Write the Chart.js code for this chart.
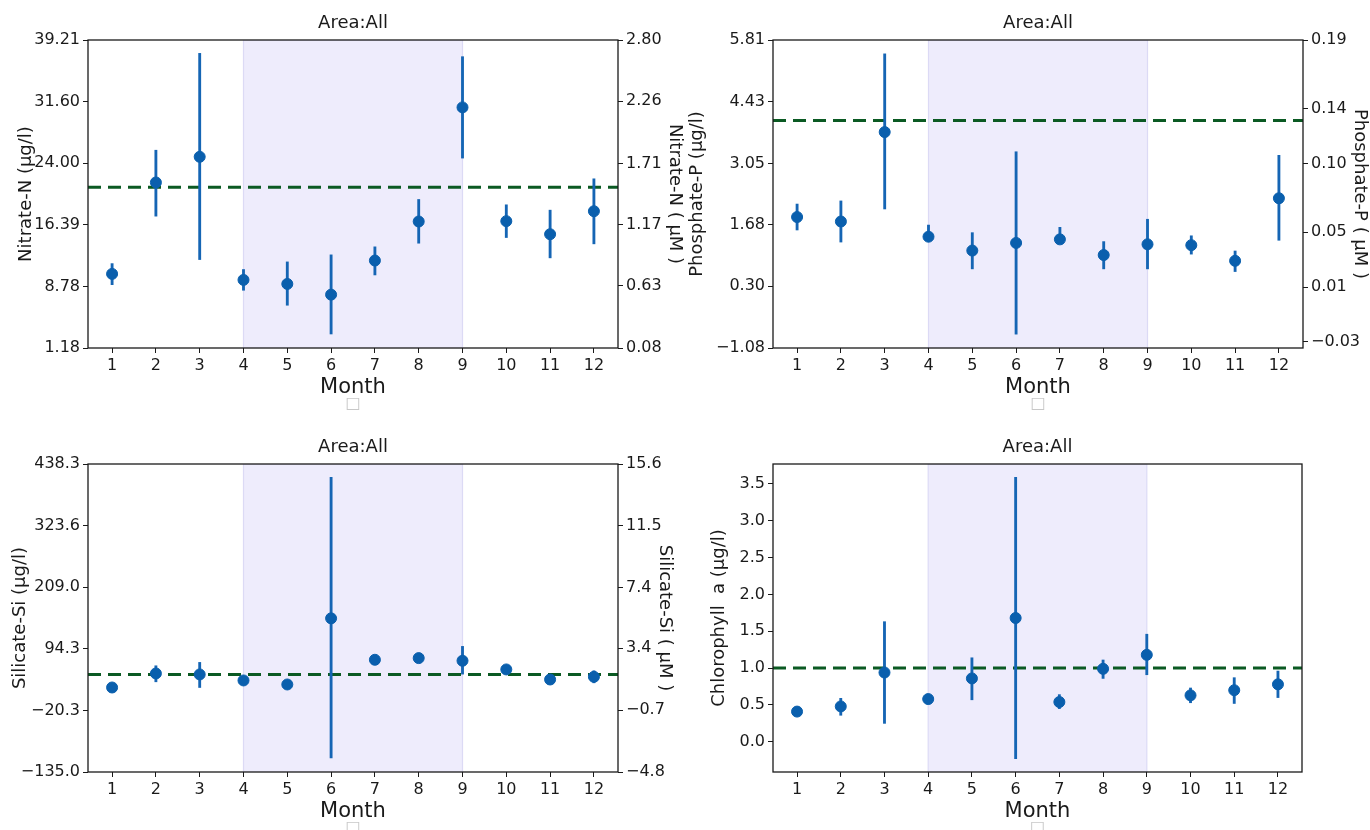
<!DOCTYPE html>
<html>
<head>
<meta charset="utf-8">
<script src="https://cdn.jsdelivr.net/npm/chart.js@4.4.1/dist/chart.umd.min.js"></script>
<style>
  html, body { margin: 0; padding: 0; background: #fff; overflow: hidden; }
  #wrap { position: relative; width: 1370px; height: 830px; overflow: hidden; }
  .panel { position: absolute; width: 685px; height: 415px; }
</style>
</head>
<body>
<div id="wrap">
  <div class="panel" style="left:0;top:0"><canvas id="c-no3" width="685" height="415"></canvas></div>
  <div class="panel" style="left:685px;top:0"><canvas id="c-po4" width="685" height="415"></canvas></div>
  <div class="panel" style="left:0;top:424px"><canvas id="c-si" width="685" height="415"></canvas></div>
  <div class="panel" style="left:685px;top:424px"><canvas id="c-chl" width="685" height="415"></canvas></div>
</div>
<script>
// 月別平均値と誤差範囲
const months = [1, 2, 3, 4, 5, 6, 7, 8, 9, 10, 11, 12];
const X_MIN = 0.45, X_MAX = 12.55;
const SHADE_FROM = 4, SHADE_TO = 9;

const no3Mean = [10.33, 21.62, 24.79, 9.59, 9.09, 7.77, 11.98, 16.80, 30.89, 16.84, 15.23, 18.07];
const no3Low  = [9.0, 17.46, 12.10, 8.31, 6.46, 2.91, 10.20, 14.12, 24.63, 14.82, 12.31, 14.04];
const no3High = [11.6, 25.6, 37.56, 10.87, 11.81, 12.68, 13.67, 19.52, 37.15, 18.86, 18.20, 22.07];
const no3Ref = 21.04;
const no3TicksL = [1.18, 8.78, 16.39, 24.00, 31.60, 39.21];
const no3TicksR = [0.08, 0.63, 1.17, 1.71, 2.26, 2.80];

const po4Mean = [1.85, 1.75, 3.75, 1.41, 1.10, 1.27, 1.35, 1.00, 1.24, 1.22, 0.87, 2.27];
const po4Low  = [1.56, 1.29, 2.03, 1.35, 0.69, -0.77, 1.27, 0.69, 0.69, 1.02, 0.63, 1.33];
const po4High = [2.14, 2.21, 5.50, 1.67, 1.50, 3.31, 1.62, 1.30, 1.80, 1.43, 1.09, 3.23];
const po4Ref = 4.01;
const po4TicksL = [-1.08, 0.30, 1.68, 3.05, 4.43, 5.81];
const po4TicksR = [-0.03, 0.01, 0.05, 0.10, 0.14, 0.19];

const siMean = [22.3, 48.4, 46.6, 35.4, 27.9, 151.0, 73.9, 77.0, 72.1, 55.9, 37.2, 42.2];
const siLow  = [19.5, 32.9, 22.3, 30.5, 23.5, -108.9, 70.0, 73.0, 47.2, 50.5, 32.5, 31.0];
const siHigh = [25.0, 62.7, 69.0, 40.5, 32.0, 413.4, 78.0, 81.0, 98.8, 61.0, 42.0, 53.4];
const siRef = 46.6;
const siTicksL = [-135.0, -20.3, 94.3, 209.0, 323.6, 438.3];
const siTicksR = [-4.8, -0.7, 3.4, 7.4, 11.5, 15.6];

const chlMean = [0.41, 0.48, 0.94, 0.58, 0.86, 1.68, 0.54, 0.99, 1.18, 0.63, 0.70, 0.78];
const chlLow  = [0.38, 0.36, 0.25, 0.54, 0.57, -0.23, 0.45, 0.86, 0.91, 0.53, 0.52, 0.60];
const chlHigh = [0.44, 0.59, 1.63, 0.61, 1.14, 3.59, 0.64, 1.11, 1.46, 0.73, 0.87, 0.96];
const chlRef = 1.0;
const chlTicksL = [0.0, 0.5, 1.0, 1.5, 2.0, 2.5, 3.0, 3.5];

const FONT = "'DejaVu Sans', sans-serif";
const INK = "#1a1a1a";
const C_POINT = "#0a5fad";
const C_ERR = "#1565b4";
const C_REF = "#0b5a23";
const C_SHADE = "#eeecfc";
const C_SHADE_EDGE = "#dcdaf5";

function fmt(v, d) {
  return v.toFixed(d).replace("-", "\u2212");
}

// 枠線・タイトル・欠落グリフの描画
const framePlugin = {
  id: "frame",
  afterDraw(chart) {
    const { ctx, chartArea: a } = chart;
    ctx.save();
    ctx.strokeStyle = INK;
    ctx.lineWidth = 1.3;
    ctx.strokeRect(a.left, a.top, a.right - a.left, a.bottom - a.top);
    ctx.fillStyle = INK;
    ctx.font = "18px " + FONT;
    ctx.textAlign = "center";
    ctx.textBaseline = "middle";
    const cx = (a.left + a.right) / 2;
    ctx.fillText("Area:All", cx, a.top - 17);
    ctx.fillStyle = "#c8c8c8";
    ctx.font = "16px " + FONT;
    ctx.fillText("\u25a1", cx, 404);
    ctx.restore();
  },
};

function buildPanel(id, p) {
  const pts = months.map((m, i) => ({ x: m, y: p.mean[i] }));
  const errs = months.map((m, i) => ({ x: m, y: [p.low[i], p.high[i]] }));
  const yMin = p.yMin, yMax = p.yMax;

  const scales = {
    x: {
      type: "linear",
      min: X_MIN,
      max: X_MAX,
      offset: false,
      afterBuildTicks: s => { s.ticks = months.map(v => ({ value: v })); },
      afterFit: s => { s.height = 67; },
      border: { display: false },
      grid: { offset: false, drawOnChartArea: false, drawTicks: true, tickLength: 5, color: INK },
      ticks: { color: INK, font: { family: FONT, size: 16 }, padding: 3, maxRotation: 0, autoSkip: false,
               callback: v => String(v) },
      title: { display: true, text: "Month", color: INK, font: { family: FONT, size: 21 },
               padding: { top: 0, bottom: 15 } },
    },
    y: {
      type: "linear",
      position: "left",
      min: yMin,
      max: yMax,
      afterBuildTicks: s => { s.ticks = p.ticksL.map(v => ({ value: v })); },
      afterFit: s => { s.width = 88; },
      border: { display: false },
      grid: { drawOnChartArea: false, drawTicks: true, tickLength: 5, color: INK },
      ticks: { color: INK, font: { family: FONT, size: 16 }, padding: 3,
               callback: v => fmt(v, p.decL) },
      title: { display: true, text: p.labelL, color: INK, font: { family: FONT, size: 18 },
               padding: { top: p.padL, bottom: 0 } },
    },
  };

  if (p.ticksR) {
    scales.y2 = {
      type: "linear",
      position: "right",
      min: p.rMin,
      max: p.rMax,
      afterBuildTicks: s => { s.ticks = p.ticksR.map(v => ({ value: v })); },
      afterFit: s => { s.width = 67; },
      border: { display: false },
      grid: { drawOnChartArea: false, drawTicks: true, tickLength: 5, color: INK },
      ticks: { color: INK, font: { family: FONT, size: 16 }, padding: 3,
               callback: v => fmt(v, p.decR) },
      title: { display: true, text: p.labelR, color: INK, font: { family: FONT, size: 18 },
               padding: { top: p.padR, bottom: 0 } },
    };
  }

  return new Chart(document.getElementById(id), {
    type: "scatter",
    data: {
      datasets: [
        {
          type: "scatter",
          data: pts,
          backgroundColor: C_POINT,
          borderColor: C_POINT,
          pointRadius: 5.5,
          pointHoverRadius: 5.5,
          order: 0,
        },
        {
          type: "bar",
          data: errs,
          backgroundColor: C_ERR,
          borderWidth: 0,
          barThickness: 2.2,
          order: 1,
        },
        {
          type: "line",
          data: [{ x: X_MIN, y: p.ref }, { x: X_MAX, y: p.ref }],
          borderColor: C_REF,
          borderWidth: 3,
          borderDash: [13, 7],
          pointRadius: 0,
          fill: false,
          order: 2,
        },
        {
          type: "line",
          data: [
            { x: SHADE_FROM, y: yMin }, { x: SHADE_FROM, y: yMax },
            { x: SHADE_TO, y: yMax }, { x: SHADE_TO, y: yMin },
          ],
          borderColor: C_SHADE_EDGE,
          borderWidth: 1.2,
          backgroundColor: C_SHADE,
          fill: "start",
          pointRadius: 0,
          tension: 0,
          order: 3,
        },
      ],
    },
    options: {
      responsive: false,
      animation: false,
      layout: { padding: { top: 40, right: p.ticksR ? 0 : 68, left: 0, bottom: 0 } },
      plugins: { legend: { display: false }, tooltip: { enabled: false }, title: { display: false } },
      scales,
    },
    plugins: [framePlugin],
  });
}

buildPanel("c-no3", {
  mean: no3Mean, low: no3Low, high: no3High, ref: no3Ref,
  ticksL: no3TicksL, yMin: 1.18, yMax: 39.21, decL: 2, labelL: "Nitrate-N (\u00b5g/l)", padL: 16,
  ticksR: no3TicksR, rMin: 0.08, rMax: 2.80, decR: 2, labelR: "Nitrate-N ( \u03bcM )", padR: 0,
});
buildPanel("c-po4", {
  mean: po4Mean, low: po4Low, high: po4High, ref: po4Ref,
  ticksL: po4TicksL, yMin: -1.08, yMax: 5.81, decL: 2, labelL: "Phosphate-P (\u00b5g/l)", padL: 2,
  ticksR: po4TicksR, rMin: -0.0344, rMax: 0.19, decR: 2, labelR: "Phosphate-P ( \u03bcM )", padR: 0,
});
buildPanel("c-si", {
  mean: siMean, low: siLow, high: siHigh, ref: siRef,
  ticksL: siTicksL, yMin: -135.0, yMax: 438.3, decL: 1, labelL: "Silicate-Si (\u00b5g/l)", padL: 10,
  ticksR: siTicksR, rMin: -4.8, rMax: 15.6, decR: 1, labelR: "Silicate-Si ( \u03bcM )", padR: 10,
});
buildPanel("c-chl", {
  mean: chlMean, low: chlLow, high: chlHigh, ref: chlRef,
  ticksL: chlTicksL, yMin: -0.41, yMax: 3.77, decL: 1, labelL: "Chlorophyll  a (\u00b5g/l)", padL: 24,
  ticksR: null,
});
</script>
</body>
</html>
